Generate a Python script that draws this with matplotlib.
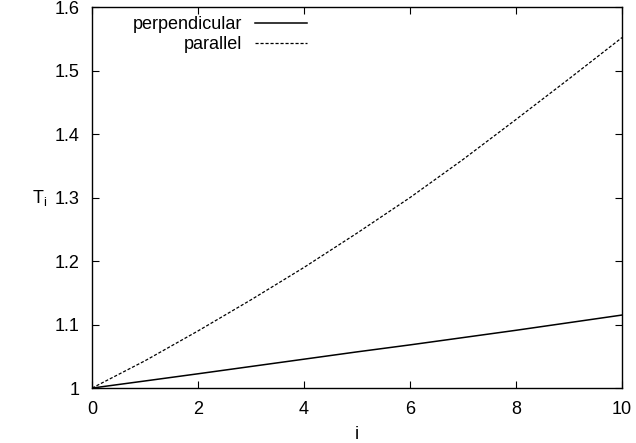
import matplotlib
matplotlib.use("Agg")
import matplotlib.pyplot as plt
from matplotlib.ticker import FormatStrFormatter

plt.rcParams['font.family'] = ['Liberation Sans', 'DejaVu Sans']

# values
i_vals = [0, 1, 2, 3, 4, 5, 6, 7, 8, 9, 10]
t_perp = [1.0, 1.0112, 1.0225, 1.034, 1.0455, 1.057, 1.068, 1.0795, 1.091, 1.103, 1.115]
t_para = [1.0, 1.043, 1.09, 1.139, 1.19, 1.244, 1.30, 1.36, 1.423, 1.487, 1.552]

x_ticks = [0, 2, 4, 6, 8, 10]
y_ticks = [1.0, 1.1, 1.2, 1.3, 1.4, 1.5, 1.6]

fig = plt.figure(figsize=(6.36, 4.43), dpi=100)
ax = fig.add_axes([0.1447, 0.124, 0.8333, 0.860])

ax.plot(i_vals, t_perp, color='black', linewidth=1.1, label='perpendicular')
ax.plot(i_vals, t_para, color='black', linewidth=0.9, dashes=(2.5, 1.5), label='parallel')

ax.set_xlim(0, 10)
ax.set_ylim(1.0, 1.6)
ax.set_xticks(x_ticks)
ax.set_yticks(y_ticks)
ax.yaxis.set_major_formatter(FormatStrFormatter('%g'))
ax.tick_params(direction='in', length=5, width=0.8, top=True, right=True,
               labelsize=13, pad=9)
for s in ax.spines.values():
    s.set_linewidth(1.0)

ax.set_xlabel('i', fontsize=13, labelpad=6)
ax.set_ylabel(r'T$_\mathregular{i}$', fontsize=13, rotation=0, ha='center', va='center')
ax.yaxis.set_label_coords(-0.098, 0.5)

ax.legend(loc='upper right', bbox_to_anchor=(0.419, 0.995), frameon=False,
          markerfirst=False, fontsize=13, handlelength=2.9, handletextpad=0.7,
          labelspacing=0.15, borderaxespad=0)

fig.savefig('out.png', dpi=100)
